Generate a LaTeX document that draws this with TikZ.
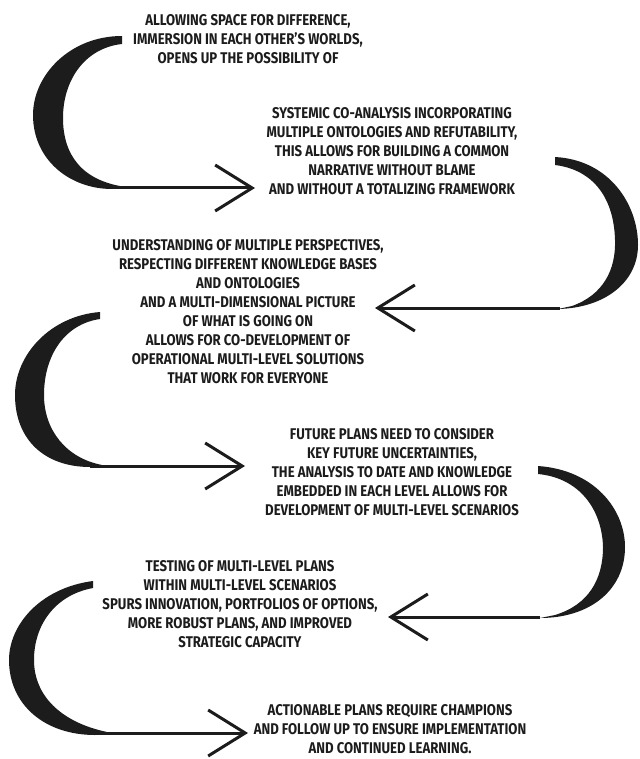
\documentclass[tikz,border=0pt]{standalone}
\usepackage{fontspec}
\newfontfamily\handfont[FakeStretch=0.85]{Fira Sans}
\usetikzlibrary{arrows.meta}
\definecolor{ink}{HTML}{1C1C1C}
\tikzset{note/.style={align=center,inner sep=0pt,text=ink,
    font=\handfont\bfseries\fontsize{15.5}{19}\selectfont},
  band/.style={fill=ink},
  arrow/.style={draw=ink,line width=3pt,-{Straight Barb[length=37pt,width=46pt]}}}

\begin{document}
\begin{tikzpicture}[x=1pt,y=-1pt]
  \path[use as bounding box] (0,0) rectangle (639,759);
  \node[note] (allow) at (248,39) {ALLOWING SPACE FOR DIFFERENCE,\\
    IMMERSION IN EACH OTHER’S WORLDS,\\OPENS UP THE POSSIBILITY OF};
  \node[note] (coanalysis) at (392,151) {SYSTEMIC CO-ANALYSIS INCORPORATING\\
    MULTIPLE ONTOLOGIES AND REFUTABILITY,\\THIS ALLOWS FOR BUILDING A COMMON\\
    NARRATIVE WITHOUT BLAME\\AND WITHOUT A TOTALIZING FRAMEWORK};
  \node[note] (perspectives) at (248,312) {UNDERSTANDING OF MULTIPLE PERSPECTIVES,\\
    RESPECTING DIFFERENT KNOWLEDGE BASES\\AND ONTOLOGIES\\
    AND A MULTI-DIMENSIONAL PICTURE\\OF WHAT IS GOING ON\\
    ALLOWS FOR CO-DEVELOPMENT OF\\OPERATIONAL MULTI-LEVEL SOLUTIONS\\
    THAT WORK FOR EVERYONE};
  \node[note] (scenarios) at (392,472) {FUTURE PLANS NEED TO CONSIDER\\
    KEY FUTURE UNCERTAINTIES,\\THE ANALYSIS TO DATE AND KNOWLEDGE\\
    EMBEDDED IN EACH LEVEL ALLOWS FOR\\DEVELOPMENT OF MULTI-LEVEL SCENARIOS};
  \node[note] (testing) at (240,604) {TESTING OF MULTI-LEVEL PLANS\\
    WITHIN MULTI-LEVEL SCENARIOS\\SPURS INNOVATION, PORTFOLIOS OF OPTIONS,\\
    MORE ROBUST PLANS, AND IMPROVED\\STRATEGIC CAPACITY};
  \node[note] (champions) at (390,729) {ACTIONABLE PLANS REQUIRE CHAMPIONS\\
    AND FOLLOW UP TO ENSURE IMPLEMENTATION\\AND CONTINUED LEARNING.};

  \fill[band] (122,36) .. controls (70,36) and (33,75) .. (33,115)
    .. controls (33,160) and (70,189) .. (112,189) -- (126,187)
    .. controls (82,181) and (63,155) .. (63,118)
    .. controls (63,80) and (85,48) .. (122,44) -- cycle;
  \fill[band] (555,157) .. controls (610,160) and (638,205) .. (638,245)
    .. controls (638,282) and (605,308) .. (558,309) -- (572,306)
    .. controls (603,295) and (616,270) .. (615,240)
    .. controls (614,200) and (595,170) .. (555,165) -- cycle;
  \fill[band] (100,312) .. controls (50,316) and (15,355) .. (15,395)
    .. controls (15,440) and (45,467) .. (90,467) -- (102,465)
    .. controls (66,458) and (44,430) .. (44,395)
    .. controls (44,355) and (65,324) .. (100,319) -- cycle;
  \fill[band] (538,466) .. controls (595,470) and (625,510) .. (625,547)
    .. controls (625,590) and (590,618) .. (540,618) -- (555,615)
    .. controls (588,605) and (603,580) .. (603,547)
    .. controls (602,510) and (580,478) .. (538,474) -- cycle;
  \fill[band] (93,581) .. controls (40,588) and (9,625) .. (9,660)
    .. controls (9,705) and (45,735) .. (95,735) -- (107,732)
    .. controls (60,722) and (34,695) .. (34,660)
    .. controls (34,625) and (55,595) .. (93,588) -- cycle;

  \coordinate (c1) at (112,188);  \coordinate (p1) at (255,188);
  \coordinate (c2) at (560,308);  \coordinate (p2) at (375,308);
  \coordinate (c3) at (90,466);   \coordinate (p3) at (245,466);
  \coordinate (c4) at (540,617);  \coordinate (p4) at (388,617);
  \coordinate (c5) at (95,733);   \coordinate (p5) at (248,733);
  \foreach \i in {1,...,5}
    \draw[arrow] (c\i) -- (p\i);
\end{tikzpicture}
\end{document}
